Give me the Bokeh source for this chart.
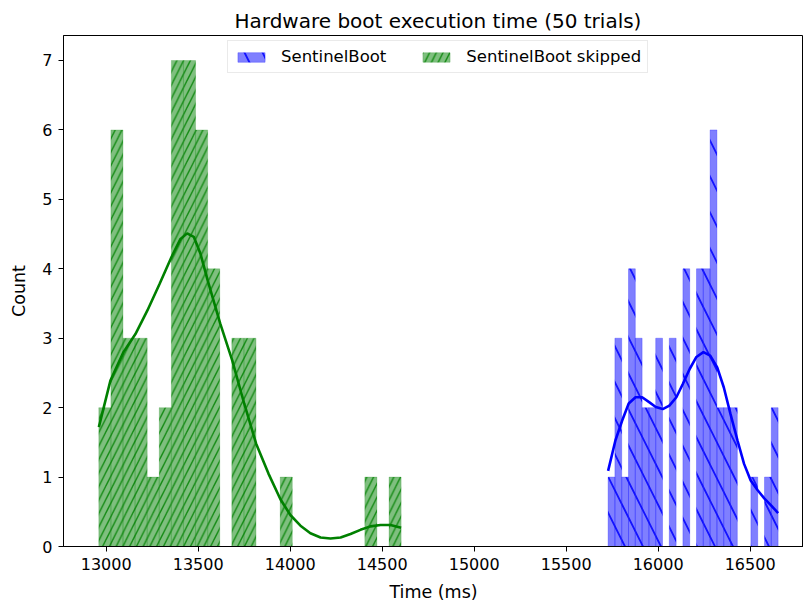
import numpy as np
from bokeh.plotting import figure
from bokeh.models import ColumnDataSource, Legend, LegendItem, FixedTicker
from bokeh.embed import file_html
from bokeh.resources import INLINE

# ---------------- data ----------------
title_text = "Hardware boot execution time (50 trials)"
x_label = "Time (ms)"
y_label = "Count"

x_ticks = [13000, 13500, 14000, 14500, 15000, 15500, 16000, 16500]
y_ticks = [0, 1, 2, 3, 4, 5, 6, 7]

# SentinelBoot skipped (green) histogram: 25 bins between min and max
skipped_min = 12960
skipped_max = 14603
skipped_counts = [2, 6, 3, 3, 1, 2, 7, 7, 6, 4, 0, 3, 3, 0, 0, 1, 0, 0, 0, 0, 0, 0, 1, 0, 1]

# SentinelBoot (blue) histogram: 25 bins between min and max
boot_min = 15728
boot_max = 16652
boot_counts = [1, 3, 1, 4, 3, 2, 2, 3, 0, 3, 0, 4, 0, 4, 4, 6, 2, 2, 2, 0, 0, 1, 0, 1, 2]

# KDE curves (scaled to counts)
skipped_kde_x = [12960, 13023, 13094, 13159, 13224, 13290, 13355, 13404, 13440, 13476,
                 13512, 13552, 13620, 13685, 13750, 13815, 13882, 13947, 14002, 14056,
                 14110, 14165, 14219, 14274, 14328, 14382, 14436, 14491, 14545, 14603]
skipped_kde_y = [1.72, 2.39, 2.80, 3.06, 3.40, 3.78, 4.17, 4.43, 4.51, 4.46,
                 4.22, 3.83, 3.21, 2.68, 2.06, 1.48, 1.05, 0.68, 0.45, 0.30,
                 0.19, 0.13, 0.115, 0.13, 0.18, 0.24, 0.29, 0.31, 0.31, 0.27]

boot_kde_x = [15728, 15768, 15804, 15840, 15877, 15913, 15951, 15987, 16025, 16061,
              16099, 16134, 16172, 16208, 16246, 16283, 16321, 16357, 16393, 16431,
              16467, 16503, 16541, 16578, 16615, 16652]
boot_kde_y = [1.09, 1.53, 1.81, 2.06, 2.15, 2.15, 2.08, 2.01, 1.98, 2.03,
              2.15, 2.34, 2.56, 2.73, 2.80, 2.75, 2.58, 2.29, 1.91, 1.53,
              1.19, 0.95, 0.81, 0.69, 0.59, 0.48]

# ---------------- build ----------------
def hist_source(lo, hi, counts):
    edges = np.linspace(lo, hi, len(counts) + 1)
    return ColumnDataSource(dict(left=edges[:-1], right=edges[1:],
                                 top=counts, bottom=[0] * len(counts)))

FONT = "DejaVu Sans"

p = figure(width=803, height=606, x_range=(12768, 16790), y_range=(0, 7.36),
           output_backend="svg", toolbar_location=None,
           min_border_left=63, min_border_right=0, min_border_top=35, min_border_bottom=60)

p.title.text = title_text
p.title.text_font = FONT
p.title.text_font_size = "20px"
p.title.text_font_style = "normal"
p.title.text_color = "black"
p.title.align = "left"
p.title.offset = 171
p.title.standoff = 6

p.xgrid.visible = False
p.ygrid.visible = False
p.outline_line_color = "black"
p.outline_line_width = 1
p.outline_line_alpha = 1

for ax in (p.xaxis[0], p.yaxis[0]):
    ax.major_label_text_font = FONT
    ax.major_label_text_font_size = "16px"
    ax.axis_label_text_font = FONT
    ax.axis_label_text_font_size = "17.5px"
    ax.axis_label_text_font_style = "normal"
    ax.major_tick_out = 5
    ax.major_tick_in = 0
    ax.minor_tick_out = 0
    ax.minor_tick_in = 0
    ax.axis_line_color = "black"
    ax.major_tick_line_color = "black"
    ax.major_label_text_color = "black"
    ax.axis_label_text_color = "black"

p.xaxis.axis_label = x_label
p.yaxis.axis_label = y_label
p.xaxis.ticker = FixedTicker(ticks=x_ticks)
p.yaxis.ticker = FixedTicker(ticks=y_ticks)
p.xaxis.major_label_standoff = 6
p.xaxis.axis_label_standoff = 9
p.yaxis.major_label_standoff = 6
p.yaxis.axis_label_standoff = 10

src_boot = hist_source(boot_min, boot_max, boot_counts)
src_skip = hist_source(skipped_min, skipped_max, skipped_counts)

r_boot = p.quad(left="left", right="right", top="top", bottom="bottom", source=src_boot,
                fill_color="blue", fill_alpha=0.5,
                line_color="blue", line_alpha=0.25, line_width=1,
                hatch_pattern="\\", hatch_color="blue", hatch_alpha=0.85,
                hatch_scale=36, hatch_weight=1.8)
r_skip = p.quad(left="left", right="right", top="top", bottom="bottom", source=src_skip,
                fill_color="green", fill_alpha=0.5,
                line_color="green", line_alpha=0.2, line_width=1,
                hatch_pattern="/", hatch_color="green", hatch_alpha=0.85,
                hatch_scale=13.5, hatch_weight=1.4)

p.line(skipped_kde_x, skipped_kde_y, line_color="green", line_width=2.6)
p.line(boot_kde_x, boot_kde_y, line_color="blue", line_width=2.6)

legend = Legend(items=[LegendItem(label="SentinelBoot", renderers=[r_boot]),
                       LegendItem(label="SentinelBoot skipped", renderers=[r_skip])],
                orientation="horizontal", location=(164, 473))
legend.label_text_font = FONT
legend.label_text_font_size = "16.5px"
legend.label_text_color = "black"
legend.glyph_width = 34
legend.glyph_height = 12
legend.label_standoff = 13
legend.spacing = 33
legend.padding = 6
legend.margin = 0
legend.label_height = 17
legend.border_line_color = "#d5d5d5"
legend.border_line_width = 1
legend.background_fill_alpha = 0.8
p.add_layout(legend)

open("out.html", "w").write(file_html(p, INLINE))
